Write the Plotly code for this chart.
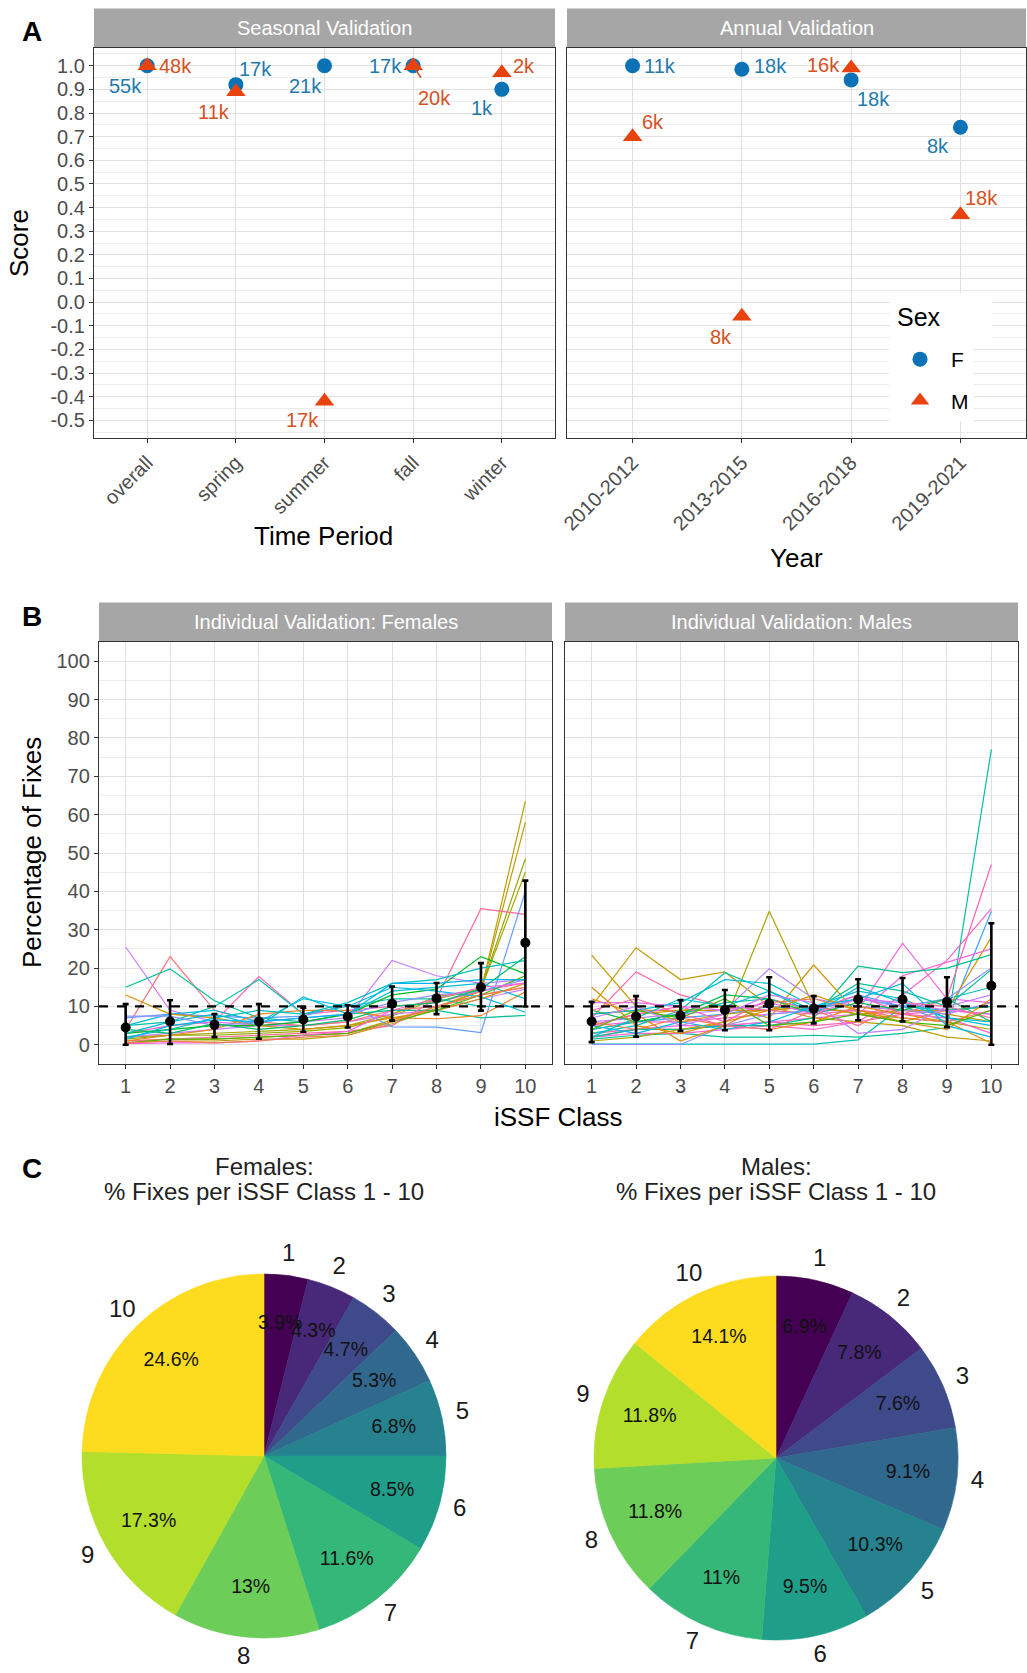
import math
import plotly.graph_objects as go

W, H = 1027, 1673

# ---------------- DATA ----------------
seasons = ["overall", "spring", "summer", "fall", "winter"]
season_f = [1.0, 0.92, 1.0, 1.0, 0.90]
season_m = [1.0, 0.89, -0.42, 1.0, 0.97]
season_f_n = ["55k", "17k", "21k", "17k", "1k"]
season_m_n = ["48k", "11k", "17k", "20k", "2k"]

years = ["2010-2012", "2013-2015", "2016-2018", "2019-2021"]
annual_f = [1.0, 0.985, 0.94, 0.74]
annual_m = [0.70, -0.06, 0.99, 0.37]
annual_f_n = ["11k", "18k", "18k", "8k"]
annual_m_n = ["6k", "8k", "16k", "18k"]

score_ticks = [-0.5, -0.4, -0.3, -0.2, -0.1, 0.0, 0.1, 0.2, 0.3, 0.4, 0.5, 0.6, 0.7, 0.8, 0.9, 1.0]

classes = [1, 2, 3, 4, 5, 6, 7, 8, 9, 10]
pct_ticks = [0, 10, 20, 30, 40, 50, 60, 70, 80, 90, 100]
reference_pct = 10

female_lines = [
    [0.5, 1.0, 1.0, 1.5, 1.5, 2.5, 5.5, 9.5, 14.0, 63.5],
    [1.0, 1.5, 1.5, 2.0, 2.5, 3.0, 6.5, 10.0, 14.0, 58.0],
    [1.5, 2.5, 2.5, 3.0, 3.5, 4.5, 7.5, 12.0, 14.5, 48.5],
    [2.0, 2.5, 3.0, 3.5, 4.0, 5.0, 8.0, 12.5, 14.5, 45.0],
    [25.5, 9.0, 6.0, 5.0, 5.0, 6.0, 8.0, 9.0, 12.0, 14.5],
    [4.0, 23.0, 9.0, 6.0, 5.0, 6.0, 9.0, 10.0, 13.0, 15.0],
    [15.0, 19.8, 11.5, 7.0, 6.0, 8.0, 9.0, 9.0, 7.0, 7.7],
    [3.0, 5.0, 6.0, 17.8, 8.0, 9.0, 10.0, 11.0, 14.0, 16.2],
    [5.0, 6.0, 10.0, 17.0, 8.0, 10.0, 12.0, 12.0, 10.0, 10.0],
    [1.0, 1.5, 2.0, 2.5, 3.0, 3.5, 5.0, 12.0, 35.5, 34.0],
    [7.0, 8.0, 7.5, 7.0, 7.5, 10.5, 4.7, 4.6, 3.2, 40.0],
    [2.0, 3.0, 4.0, 5.0, 6.0, 7.0, 22.0, 18.0, 16.0, 17.0],
    [3.0, 4.0, 5.0, 5.0, 6.0, 8.0, 13.0, 14.5, 23.0, 18.5],
    [5.0, 8.0, 9.0, 6.0, 12.0, 10.0, 15.0, 14.0, 12.5, 8.5],
    [1.0, 2.5, 4.0, 8.0, 9.0, 9.0, 7.0, 6.8, 7.6, 13.8],
    [13.0, 8.0, 7.0, 5.0, 4.0, 5.0, 7.0, 9.0, 12.0, 16.0],
    [3.0, 6.0, 8.0, 5.0, 12.5, 8.0, 14.0, 15.0, 16.0, 12.0],
    [0.5, 1.5, 1.5, 2.0, 2.5, 3.0, 6.0, 9.0, 13.0, 18.0],
    [7.5, 7.5, 5.0, 6.0, 7.0, 8.0, 11.0, 13.0, 14.0, 17.0],
    [2.0, 4.0, 7.0, 9.0, 8.0, 11.0, 16.0, 17.0, 20.0, 22.0],
    [0.3, 0.5, 0.5, 1.0, 2.5, 3.5, 9.0, 12.0, 15.0, 16.0],
    [0.5, 1.0, 0.5, 1.0, 2.0, 2.5, 6.0, 10.0, 13.0, 15.0],
    [1.5, 5.0, 6.5, 6.0, 7.0, 8.0, 16.0, 16.0, 17.0, 17.0],
    [4.0, 3.0, 5.5, 4.0, 5.0, 6.5, 10.0, 11.0, 14.5, 23.0],
]
female_mean = [4.5, 6.1, 5.2, 6.1, 6.6, 7.4, 10.7, 12.1, 15.0, 26.6]
female_upper = [10.6, 11.6, 8.0, 10.6, 9.7, 10.3, 15.2, 16.1, 21.3, 42.8]
female_lower = [0.0, 0.2, 2.0, 1.6, 3.4, 4.5, 6.3, 8.0, 8.9, 10.0]

male_lines = [
    [1.5, 2.5, 3.0, 2.0, 2.0, 2.5, 2.0, 3.0, 4.5, 77.0],
    [3.0, 4.0, 4.0, 5.0, 6.0, 5.0, 6.0, 8.0, 12.0, 47.0],
    [2.0, 3.0, 3.0, 4.0, 5.0, 4.0, 6.0, 13.0, 22.0, 35.5],
    [5.0, 6.0, 6.0, 7.0, 8.0, 9.0, 9.0, 26.5, 12.0, 11.0],
    [4.0, 6.0, 7.0, 8.0, 10.0, 9.0, 13.0, 10.0, 6.0, 34.8],
    [5.0, 8.0, 9.0, 9.0, 9.0, 10.0, 8.0, 6.0, 9.0, 28.0],
    [2.0, 4.0, 5.0, 5.0, 6.0, 7.0, 8.0, 18.0, 21.5, 25.0],
    [2.0, 4.0, 4.0, 5.0, 5.0, 7.0, 20.5, 18.8, 20.0, 23.5],
    [23.4, 10.0, 6.0, 8.0, 9.0, 10.0, 8.0, 9.0, 8.0, 6.0],
    [10.0, 25.3, 17.0, 19.0, 10.0, 7.0, 6.0, 5.0, 2.0, 1.0],
    [1.0, 2.0, 4.0, 6.0, 34.8, 10.0, 8.0, 7.0, 6.0, 4.0],
    [8.0, 9.0, 9.0, 10.0, 7.0, 20.8, 8.0, 9.0, 9.0, 10.0],
    [7.0, 19.0, 13.0, 10.0, 9.0, 8.0, 9.0, 8.0, 9.0, 8.0],
    [6.0, 7.0, 8.0, 9.0, 19.8, 12.0, 10.0, 9.0, 8.0, 11.0],
    [3.0, 5.0, 9.0, 18.8, 14.0, 9.0, 12.0, 10.0, 9.0, 10.0],
    [0.2, 0.2, 0.2, 0.2, 0.2, 0.2, 1.3, 10.0, 12.0, 15.0],
    [0.1, 0.1, 0.1, 5.0, 8.0, 9.0, 12.0, 10.0, 12.0, 20.0],
    [12.0, 8.0, 1.0, 5.0, 4.0, 6.0, 10.0, 8.0, 6.0, 0.4],
    [4.0, 6.0, 8.0, 11.0, 12.0, 9.0, 16.0, 14.0, 10.0, 19.6],
    [8.0, 9.0, 11.0, 17.0, 16.0, 10.0, 14.0, 12.0, 7.0, 6.0],
    [5.0, 8.0, 10.0, 6.0, 12.0, 9.0, 13.0, 8.0, 7.0, 3.0],
    [9.0, 6.0, 8.0, 13.0, 12.0, 8.0, 11.0, 9.0, 12.0, 6.0],
    [6.0, 4.0, 7.0, 5.0, 11.0, 12.0, 9.0, 7.0, 6.0, 9.0],
    [11.0, 11.0, 10.0, 9.0, 11.0, 8.0, 12.0, 11.0, 9.0, 8.0],
    [2.0, 7.0, 12.0, 10.0, 14.0, 8.0, 15.0, 11.0, 7.0, 5.0],
    [15.0, 5.0, 3.0, 6.0, 9.0, 13.0, 9.0, 6.0, 4.0, 12.0],
    [5.0, 3.0, 6.0, 4.0, 6.0, 10.0, 12.0, 16.0, 5.0, 2.0],
    [9.0, 12.0, 8.0, 5.0, 4.0, 9.0, 5.0, 11.0, 10.0, 7.0],
    [4.0, 9.0, 7.0, 12.0, 5.0, 6.0, 8.0, 6.0, 5.0, 9.0],
    [7.0, 10.0, 5.0, 8.0, 13.0, 11.0, 3.0, 4.0, 10.0, 13.0],
]
male_mean = [6.1, 7.4, 7.6, 9.1, 10.7, 9.4, 11.8, 11.8, 11.2, 15.4]
male_upper = [11.2, 12.7, 11.6, 14.3, 17.6, 12.7, 17.1, 17.4, 17.6, 31.7]
male_lower = [0.7, 2.1, 3.6, 3.8, 3.8, 5.6, 6.4, 6.1, 4.6, 0.0]

pie_classes = ["1", "2", "3", "4", "5", "6", "7", "8", "9", "10"]
female_pie = [3.9, 4.3, 4.7, 5.3, 6.8, 8.5, 11.6, 13, 17.3, 24.6]
male_pie = [6.9, 7.8, 7.6, 9.1, 10.3, 9.5, 11, 11.8, 11.8, 14.1]

# ---------------- STYLE ----------------
FONT = "Liberation Sans, Arial, sans-serif"
F_COL, M_COL = "#0A72B5", "#E8420F"
F_TXT, M_TXT = "#1F7AAC", "#D4521E"
GRID, MINOR = "#E0E0E0", "#EDEDED"
TICK_COL = "#4D4D4D"
STRIP = "#A6A6A6"
viridis = ["#440154", "#482878", "#3E4A89", "#31688E", "#26828E",
           "#1F9E89", "#35B779", "#6DCD59", "#B4DE2C", "#FDDC20"]
female_hues = [75, 68, 95, 85, 290, 10, 170, 345, 180, 355, 255, 285,
               130, 215, 35, 55, 205, 120, 265, 195, 320, 25, 225, 150]
male_hues = [175, 345, 330, 320, 250, 55, 315, 165, 65, 70, 80, 60, 350, 275,
             185, 190, 265, 40, 170, 205, 335, 140, 25, 300, 200, 50, 215, 355, 120, 285]

# label offsets (pixels) for the count labels
season_f_off = [(-22, -20), (20, 16), (-19, -20), (-28, 0), (-20, -19)]
season_m_off = [(28, 0), (-22, -20), (-22, -19), (21, -32), (22, 7)]
annual_f_off = [(27, 0), (29, 3), (22, -19), (-22, -19)]
annual_m_off = [(20, 15), (-21, -21), (-28, 3), (21, 17)]

# pie placement (pixels)
PIE_R = 182
PIE_F_C = (264, 1456)
PIE_M_C = (776, 1458)
PIE_RMAX = 1.15


def hue_color(h, c=100.0, l=65.0):
    hr = math.radians(h)
    U, V = c * math.cos(hr), c * math.sin(hr)
    Xn, Yn, Zn = 0.95047, 1.0, 1.08883
    den = Xn + 15 * Yn + 3 * Zn
    un, vn = 4 * Xn / den, 9 * Yn / den
    Y = ((l + 16) / 116) ** 3
    u, v = U / (13 * l) + un, V / (13 * l) + vn
    X = Y * 9 * u / (4 * v)
    Z = Y * (12 - 3 * u - 20 * v) / (4 * v)
    r = 3.2404542 * X - 1.5371385 * Y - 0.4985314 * Z
    g = -0.9692660 * X + 1.8760108 * Y + 0.0415560 * Z
    b = 0.0556434 * X - 0.2040259 * Y + 1.0572252 * Z

    def gam(x):
        x = max(0.0, min(1.0, x))
        return 12.92 * x if x <= 0.0031308 else 1.055 * x ** (1 / 2.4) - 0.055
    return "#%02x%02x%02x" % tuple(int(round(255 * gam(x))) for x in (r, g, b))


def px_x(p):
    return p / W


def px_y(p):
    return 1 - p / H


fig = go.Figure()
shapes = []
annotations = []

AX2 = (567, 1026)
AY = (48, 438)

# ---------------- PANEL A ----------------
def add_points(xs, fv, mv, xa, ya, legend):
    fig.add_trace(go.Scatter(x=xs, y=fv, mode="markers", name="F",
                             marker=dict(symbol="circle", size=15, color=F_COL),
                             xaxis=xa, yaxis=ya, showlegend=legend, legendgroup="F"))
    fig.add_trace(go.Scatter(x=xs, y=mv, mode="markers", name="M",
                             marker=dict(symbol="triangle-up", size=17, color=M_COL),
                             xaxis=xa, yaxis=ya, showlegend=legend, legendgroup="M"))


add_points(seasons, season_f, season_m, "x", "y", True)
add_points(years, annual_f, annual_m, "x2", "y2", False)


def add_labels(xs, vals, labels, offs, col, xr, yr, arrow_idx=None):
    for i, (xv, yv, t, (dx, dy)) in enumerate(zip(xs, vals, labels, offs)):
        if arrow_idx is not None and i == arrow_idx:
            annotations.append(dict(x=xv, y=yv, xref=xr, yref=yr, text=t, showarrow=True,
                                    arrowhead=0, arrowwidth=1.6, arrowcolor=col,
                                    ax=dx, ay=-dy, standoff=4, startstandoff=9,
                                    font=dict(family=FONT, size=20, color=col)))
        else:
            annotations.append(dict(x=xv, y=yv, xref=xr, yref=yr, text=t, showarrow=False,
                                    xshift=dx, yshift=dy, xanchor="center", yanchor="middle",
                                    font=dict(family=FONT, size=20, color=col)))


add_labels(seasons, season_f, season_f_n, season_f_off, F_TXT, "x", "y")
add_labels(seasons, season_m, season_m_n, season_m_off, M_TXT, "x", "y", arrow_idx=3)
add_labels(years, annual_f, annual_f_n, annual_f_off, F_TXT, "x2", "y2")
add_labels(years, annual_m, annual_m_n, annual_m_off, M_TXT, "x2", "y2")

# ---------------- PANEL B ----------------
def add_individuals(lines, hues, xa, ya):
    for vals, h in zip(lines, hues):
        fig.add_trace(go.Scatter(x=classes, y=vals, mode="lines",
                                 line=dict(color=hue_color(h), width=1.2),
                                 xaxis=xa, yaxis=ya, showlegend=False, hoverinfo="skip"))


def add_means(mean, upper, lower, xa, ya):
    fig.add_trace(go.Scatter(
        x=classes, y=mean, mode="markers",
        marker=dict(color="black", size=10),
        error_y=dict(type="data", symmetric=False,
                     array=[u - m for u, m in zip(upper, mean)],
                     arrayminus=[m - l for m, l in zip(mean, lower)],
                     color="black", thickness=2.6, width=3),
        xaxis=xa, yaxis=ya, showlegend=False))


add_individuals(female_lines, female_hues, "x3", "y3")
add_individuals(male_lines, male_hues, "x4", "y4")

for xa, ya in (("x3", "y3"), ("x4", "y4")):
    shapes.append(dict(type="line", xref=xa + " domain", yref=ya, x0=0, x1=1,
                       y0=reference_pct, y1=reference_pct,
                       line=dict(color="black", width=2.2, dash="dash"), layer="above"))

add_means(female_mean, female_upper, female_lower, "x3", "y3")
add_means(male_mean, male_upper, male_lower, "x4", "y4")

# ---------------- PANEL C (pies via polar bars) ----------------
def add_pie(vals, sub):
    total = sum(vals)
    mids, widths, cum = [], [], 0.0
    for v in vals:
        w = v / total * 360.0
        mids.append(cum + w / 2)
        widths.append(w)
        cum += w
    fig.add_trace(go.Barpolar(r=[1] * len(vals), theta=mids, width=widths,
                              marker=dict(color=viridis, line=dict(color=viridis, width=0.6)),
                              subplot=sub, showlegend=False, hoverinfo="skip"))
    fig.add_trace(go.Scatterpolar(r=[0.73] * len(vals), theta=mids, mode="text",
                                  text=[f"{v:g}%" for v in vals],
                                  textfont=dict(family=FONT, size=19.5, color="#111111"),
                                  subplot=sub, showlegend=False, cliponaxis=False,
                                  hoverinfo="skip"))
    fig.add_trace(go.Scatterpolar(r=[1.115] * len(vals), theta=mids, mode="text",
                                  text=pie_classes,
                                  textfont=dict(family=FONT, size=24, color="#1a1a1a"),
                                  subplot=sub, showlegend=False, cliponaxis=False,
                                  hoverinfo="skip"))


add_pie(female_pie, "polar")
add_pie(male_pie, "polar2")

# ---------------- AXES ----------------
tickfont = dict(family=FONT, size=20, color=TICK_COL)


def frame(**kw):
    d = dict(showline=True, mirror=True, linecolor="#333333", linewidth=1.3,
             showgrid=True, gridcolor=GRID, gridwidth=1.1, zeroline=False,
             ticks="outside", ticklen=4, tickcolor="#333333", tickfont=tickfont,
             automargin=False)
    d.update(kw)
    return d


def polar_box(c):
    half = PIE_R * PIE_RMAX
    return dict(x=[px_x(c[0] - half), px_x(c[0] + half)],
                y=[px_y(c[1] + half), px_y(c[1] - half)])


A_y = (px_y(AY[1]), px_y(AY[0]))
B_y = (px_y(1064), px_y(642))
score_labels = [f"{v:.1f}" for v in score_ticks]
minorA = dict(dtick=0.05, tick0=0.05, showgrid=True, gridcolor=MINOR, gridwidth=0.7, ticks="")
minorB = dict(dtick=5, tick0=5, showgrid=True, gridcolor=MINOR, gridwidth=0.7, ticks="")
polar_common = dict(radialaxis=dict(range=[0, PIE_RMAX], visible=False),
                    angularaxis=dict(visible=False, rotation=90, direction="clockwise"),
                    bgcolor="rgba(0,0,0,0)", bargap=0)

layout = dict(
    width=W, height=H, autosize=False,
    margin=dict(l=0, r=0, t=0, b=0, pad=0),
    paper_bgcolor="white", plot_bgcolor="white",
    font=dict(family=FONT, color="black"),
    xaxis=frame(domain=[px_x(94), px_x(555)], type="category",
                categoryorder="array", categoryarray=seasons,
                range=[-0.6, len(seasons) - 0.4], tickangle=-45),
    yaxis=frame(domain=A_y, range=[-0.575, 1.075], tickvals=score_ticks,
                ticktext=score_labels, minor=minorA),
    xaxis2=frame(domain=[px_x(AX2[0]), px_x(AX2[1])], type="category",
                 categoryorder="array", categoryarray=years,
                 range=[-0.6, len(years) - 0.4], tickangle=-45, anchor="y2"),
    yaxis2=frame(domain=A_y, range=[-0.575, 1.075], tickvals=score_ticks,
                 showticklabels=False, ticks="", anchor="x2", minor=minorA),
    xaxis3=frame(domain=[px_x(99), px_x(552)], range=[0.4, 10.6], tickvals=classes,
                 anchor="y3"),
    yaxis3=frame(domain=B_y, range=[-5, 105], tickvals=pct_ticks, anchor="x3", minor=minorB),
    xaxis4=frame(domain=[px_x(565), px_x(1018)], range=[0.4, 10.6], tickvals=classes,
                 anchor="y4"),
    yaxis4=frame(domain=B_y, range=[-5, 105], tickvals=pct_ticks, anchor="x4",
                 showticklabels=False, ticks="", minor=minorB),
    polar=dict(domain=polar_box(PIE_F_C), **polar_common),
    polar2=dict(domain=polar_box(PIE_M_C), **polar_common),
    legend=dict(x=px_x(889), y=px_y(339), xanchor="left", yanchor="top",
                bgcolor="white", borderwidth=0,
                font=dict(family=FONT, size=21, color="black"),
                itemwidth=52, tracegroupgap=11),
)

# strips
strips = [
    ((94, 555), (8.5, 48), "Seasonal Validation"),
    ((567, 1026), (8.5, 48), "Annual Validation"),
    ((99, 552), (602.5, 642), "Individual Validation: Females"),
    ((565, 1018), (602.5, 642), "Individual Validation: Males"),
]
for (x0, x1), (y0, y1), txt in strips:
    shapes.append(dict(type="rect", xref="paper", yref="paper",
                       x0=px_x(x0), x1=px_x(x1), y0=px_y(y1), y1=px_y(y0),
                       fillcolor=STRIP, line=dict(width=0), layer="below"))
    annotations.append(dict(xref="paper", yref="paper", x=px_x((x0 + x1) / 2),
                            y=px_y((y0 + y1) / 2), text=txt, showarrow=False,
                            xanchor="center", yanchor="middle",
                            font=dict(family=FONT, size=20, color="white")))


def paper_text(x, y, text, size, angle=0, bold=False, color="black"):
    annotations.append(dict(xref="paper", yref="paper", x=px_x(x), y=px_y(y),
                            text=f"<b>{text}</b>" if bold else text, showarrow=False,
                            xanchor="center", yanchor="middle",
                            textangle=angle, font=dict(family=FONT, size=size, color=color)))


paper_text(32, 32, "A", 28, bold=True)
paper_text(32, 616, "B", 28, bold=True)
paper_text(32, 1168, "C", 28, bold=True)
paper_text(19, 243, "Score", 26, angle=-90)
paper_text(323, 536, "Time Period", 26)
paper_text(796, 558, "Year", 26)
paper_text(32, 853, "Percentage of Fixes", 26, angle=-90)
paper_text(558, 1117, "iSSF Class", 26)
paper_text(264, 1166, "Females:", 24, color="#222222")
paper_text(264, 1191, "% Fixes per iSSF Class 1 - 10", 24, color="#222222")
paper_text(776, 1166, "Males:", 24, color="#222222")
paper_text(776, 1191, "% Fixes per iSSF Class 1 - 10", 24, color="#222222")

# legend title with a white backdrop joining the legend box
annotations.append(dict(xref="paper", yref="paper", x=px_x(941), y=px_y(317),
                        xanchor="center", yanchor="middle", text="Sex", showarrow=False,
                        width=88, height=32, align="left", valign="middle",
                        bgcolor="white", borderpad=7,
                        font=dict(family=FONT, size=25, color="black")))

layout["shapes"] = shapes
layout["annotations"] = annotations
fig.update_layout(**layout)

fig.write_html("out.html", config={"displayModeBar": False},
               post_script="document.body.style.margin='0px';")
